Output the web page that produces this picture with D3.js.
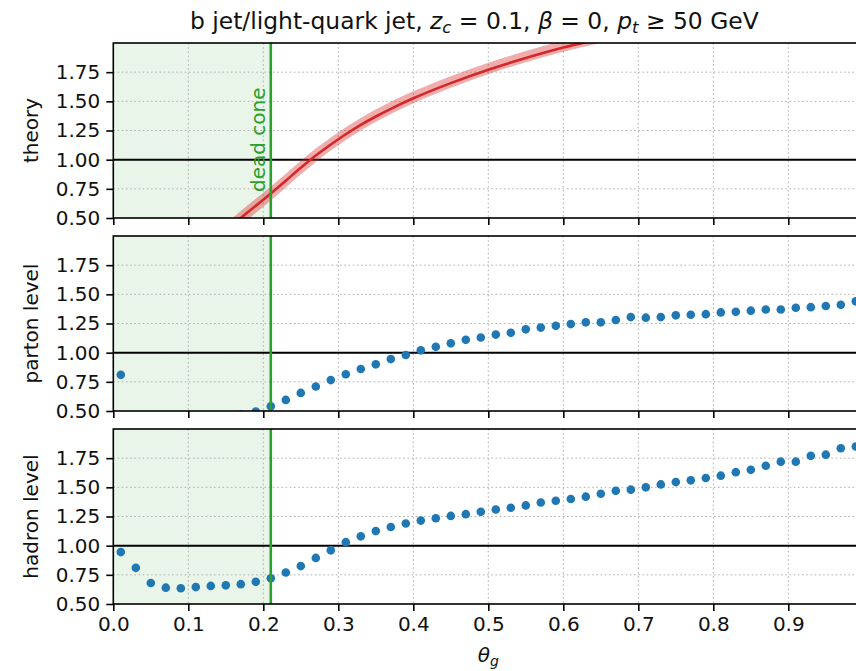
<!DOCTYPE html>
<html>
<head>
<meta charset="utf-8">
<script src="https://cdn.jsdelivr.net/npm/d3@7"></script>
<style>
body { margin: 0; background: #fff; }
text { font-family: "DejaVu Sans", sans-serif; }
</style>
</head>
<body>
<svg id="svg" width="856" height="671"></svg>
<script>
// bin centres of theta_g
const thetaBins = [0.01, 0.03, 0.05, 0.07, 0.09, 0.11, 0.13, 0.15, 0.17, 0.19,
  0.21, 0.23, 0.25, 0.27, 0.29, 0.31, 0.33, 0.35, 0.37, 0.39,
  0.41, 0.43, 0.45, 0.47, 0.49, 0.51, 0.53, 0.55, 0.57, 0.59,
  0.61, 0.63, 0.65, 0.67, 0.69, 0.71, 0.73, 0.75, 0.77, 0.79,
  0.81, 0.83, 0.85, 0.87, 0.89, 0.91, 0.93, 0.95, 0.97, 0.99];

// null = below the visible range
const partonRatio = [0.81, null, null, null, null, null, null, null, 0.47, 0.495,
  0.54, 0.595, 0.655, 0.71, 0.765, 0.815, 0.86, 0.90, 0.945, 0.98,
  1.02, 1.05, 1.08, 1.11, 1.13, 1.155, 1.17, 1.20, 1.215, 1.23,
  1.245, 1.26, 1.26, 1.28, 1.305, 1.30, 1.305, 1.32, 1.325, 1.33,
  1.345, 1.35, 1.36, 1.37, 1.37, 1.385, 1.39, 1.40, 1.41, 1.44];

const hadronRatio = [0.945, 0.81, 0.68, 0.64, 0.635, 0.645, 0.655, 0.66, 0.67, 0.69,
  0.72, 0.77, 0.825, 0.895, 0.96, 1.03, 1.08, 1.125, 1.16, 1.19,
  1.215, 1.235, 1.255, 1.27, 1.29, 1.31, 1.325, 1.345, 1.37, 1.385,
  1.40, 1.42, 1.445, 1.47, 1.48, 1.50, 1.525, 1.545, 1.56, 1.58,
  1.60, 1.63, 1.65, 1.685, 1.72, 1.72, 1.77, 1.78, 1.835, 1.85];

const theoryTheta = [0.15, 0.17, 0.19, 0.21, 0.23, 0.25, 0.27, 0.29, 0.31, 0.33,
  0.35, 0.37, 0.40, 0.45, 0.50, 0.55, 0.60, 0.65, 0.70];
const theoryCentral = [0.39, 0.50, 0.605, 0.71, 0.82, 0.93, 1.035, 1.13, 1.218, 1.298,
  1.37, 1.436, 1.526, 1.656, 1.771, 1.871, 1.961, 2.036, 2.11];
const theoryHigh = [0.45, 0.56, 0.665, 0.77, 0.88, 0.99, 1.095, 1.19, 1.278, 1.358,
  1.43, 1.496, 1.586, 1.716, 1.831, 1.931, 2.021, 2.096, 2.17];
const theoryLow = [0.33, 0.44, 0.545, 0.65, 0.762, 0.874, 0.981, 1.078, 1.168, 1.25,
  1.324, 1.392, 1.484, 1.616, 1.733, 1.835, 1.926, 2.001, 2.075];

const xTicks = [0.0, 0.1, 0.2, 0.3, 0.4, 0.5, 0.6, 0.7, 0.8, 0.9];
const yTicks = [0.50, 0.75, 1.00, 1.25, 1.50, 1.75];
const panelNames = ["theory", "parton level", "hadron level"];
const deadCone = 0.21;

const blue = "#1f77b4", red = "#d62728", green = "#2ca02c";
const panelTops = [43, 236, 429];
const panelH = 175;
const fontSize = 20;

const svg = d3.select("#svg");
const x = d3.scaleLinear().domain([0, 1]).range([113.3, 863.3]);

function drawPanel(i) {
  const top = panelTops[i];
  const y = d3.scaleLinear().domain([0.5, 2.0]).range([top + panelH, top]);
  const g = svg.append("g");

  g.append("clipPath").attr("id", "clip" + i)
    .append("rect")
    .attr("x", x(0)).attr("y", top)
    .attr("width", x(1) - x(0)).attr("height", panelH);

  // dead cone shading
  g.append("rect")
    .attr("x", x(0)).attr("y", top)
    .attr("width", x(deadCone) - x(0)).attr("height", panelH)
    .attr("fill", green).attr("fill-opacity", 0.11);

  // grid
  g.selectAll(".gx").data(xTicks.slice(1)).join("line")
    .attr("x1", d => x(d)).attr("x2", d => x(d))
    .attr("y1", top).attr("y2", top + panelH)
    .attr("stroke", "#b0b0b0").attr("stroke-width", 1)
    .attr("stroke-dasharray", "1.6,2.6");
  g.selectAll(".gy").data(yTicks.slice(1)).join("line")
    .attr("x1", x(0)).attr("x2", x(1))
    .attr("y1", d => y(d)).attr("y2", d => y(d))
    .attr("stroke", "#b0b0b0").attr("stroke-width", 1)
    .attr("stroke-dasharray", "1.6,2.6");

  const body = g.append("g").attr("clip-path", `url(#clip${i})`);

  body.append("line")
    .attr("x1", x(0)).attr("x2", x(1))
    .attr("y1", y(1)).attr("y2", y(1))
    .attr("stroke", "black").attr("stroke-width", 2);

  if (i === 0) {
    const pts = theoryTheta.map((t, k) => ({ t, c: theoryCentral[k], lo: theoryLow[k], hi: theoryHigh[k] }));
    body.append("path")
      .attr("d", d3.area().curve(d3.curveMonotoneX)
        .x(d => x(d.t)).y0(d => y(d.lo)).y1(d => y(d.hi))(pts))
      .attr("fill", red).attr("fill-opacity", 0.38);
    body.append("path")
      .attr("d", d3.line().curve(d3.curveMonotoneX)
        .x(d => x(d.t)).y(d => y(d.c))(pts))
      .attr("fill", "none").attr("stroke", red).attr("stroke-width", 2.6);
  } else {
    const vals = i === 1 ? partonRatio : hadronRatio;
    const pts = thetaBins.map((t, k) => ({ t, v: vals[k] })).filter(d => d.v !== null);
    body.selectAll("circle").data(pts).join("circle")
      .attr("cx", d => x(d.t)).attr("cy", d => y(d.v))
      .attr("r", 4.3).attr("fill", blue);
  }

  g.append("line")
    .attr("x1", x(deadCone)).attr("x2", x(deadCone))
    .attr("y1", top).attr("y2", top + panelH)
    .attr("stroke", green).attr("stroke-width", 2.6);

  if (i === 0) {
    g.append("text")
      .attr("transform", `translate(${x(deadCone) - 6}, ${top + 149}) rotate(-90)`)
      .attr("fill", green).attr("font-size", fontSize)
      .text("dead cone");
  }

  // spines
  g.append("rect")
    .attr("x", x(0)).attr("y", top)
    .attr("width", x(1) - x(0)).attr("height", panelH)
    .attr("fill", "none").attr("stroke", "black").attr("stroke-width", 1.6);

  const yAxis = g.append("g")
    .attr("transform", `translate(${x(0)},0)`)
    .call(d3.axisLeft(y).tickValues(yTicks).tickFormat(d3.format(".2f")).tickSize(7).tickPadding(6));
  const xAxis = g.append("g")
    .attr("transform", `translate(0,${top + panelH})`)
    .call(d3.axisBottom(x).tickValues(xTicks)
      .tickFormat(i === 2 ? d3.format(".1f") : () => "")
      .tickSize(7).tickPadding(6));
  for (const ax of [yAxis, xAxis]) {
    ax.select(".domain").remove();
    ax.selectAll("line").attr("stroke", "black").attr("stroke-width", 1.6);
    ax.selectAll("text").attr("font-size", fontSize).attr("fill", "#111")
      .attr("font-family", "DejaVu Sans, sans-serif");
  }

  g.append("text")
    .attr("transform", `translate(38, ${top + panelH / 2}) rotate(-90)`)
    .attr("text-anchor", "middle").attr("font-size", fontSize).attr("fill", "#111")
    .text(panelNames[i]);
}

panelTops.forEach((_, i) => drawPanel(i));

// title
const title = svg.append("text")
  .attr("x", 190).attr("y", 29)
  .attr("font-size", 23.4).attr("fill", "#111");
title.append("tspan").text("b jet/light-quark jet, ");
title.append("tspan").attr("font-style", "italic").text("z");
title.append("tspan").attr("font-style", "italic").attr("font-size", 16.5).attr("dy", 4).text("c");
title.append("tspan").attr("dy", -4).text(" = 0.1, ");
title.append("tspan").attr("font-style", "italic").text("β");
title.append("tspan").text(" = 0, ");
title.append("tspan").attr("font-style", "italic").text("p");
title.append("tspan").attr("font-style", "italic").attr("font-size", 16.5).attr("dy", 4).text("t");
title.append("tspan").attr("dy", -4).text(" ≥ 50 GeV");

// x label
const xlab = svg.append("text")
  .attr("x", x(0.5)).attr("y", 662)
  .attr("text-anchor", "middle").attr("font-size", fontSize).attr("fill", "#111");
xlab.append("tspan").attr("font-style", "italic").text("θ");
xlab.append("tspan").attr("font-style", "italic").attr("font-size", 14).attr("dy", 4).text("g");
</script>
</body>
</html>
